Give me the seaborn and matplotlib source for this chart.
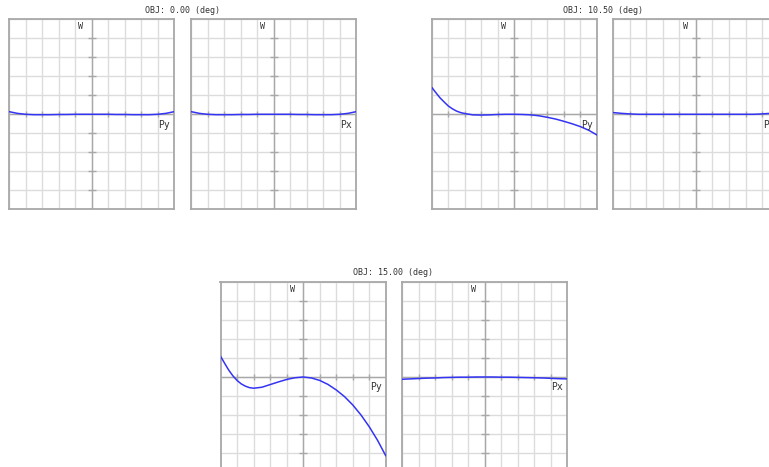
import numpy as np
import pandas as pd
import matplotlib
matplotlib.use("Agg")
import matplotlib.pyplot as plt
import seaborn as sns

# ---- data (wavefront W in grid divisions) ----
PUPIL = [-1.0, -0.9, -0.8, -0.7, -0.6, -0.5, -0.4, -0.3, -0.2, -0.1, 0.0,
         0.1, 0.2, 0.3, 0.4, 0.5, 0.6, 0.7, 0.8, 0.9, 1.0]
PUPIL_FINE = [-1.0, -0.95, -0.9, -0.85, -0.8, -0.75, -0.7, -0.65, -0.6, -0.5, -0.4,
              -0.3, -0.2, -0.1, 0.0, 0.1, 0.2, 0.3, 0.4, 0.5, 0.6, 0.7, 0.8, 0.9, 1.0]

W_OBJ0_PY = [0.14, 0.05, 0.00, -0.02, -0.02, -0.02, -0.01, -0.01, 0.0, 0.0, 0.0,
             0.0, 0.0, -0.01, -0.01, -0.02, -0.02, -0.02, 0.00, 0.05, 0.14]
W_OBJ0_PX = [0.14, 0.05, 0.00, -0.02, -0.02, -0.02, -0.01, -0.01, 0.0, 0.0, 0.0,
             0.0, 0.0, -0.01, -0.01, -0.02, -0.02, -0.02, 0.00, 0.05, 0.14]
W_OBJ10_PY = [1.42, 1.14, 0.87, 0.65, 0.44, 0.29, 0.17, 0.09, 0.04, -0.03, -0.04,
              -0.03, -0.01, 0.0, 0.0, -0.01, -0.03, -0.08, -0.16, -0.25, -0.37,
              -0.50, -0.65, -0.84, -1.09]
W_OBJ10_PX = [0.09, 0.05, 0.02, 0.0, 0.0, 0.0, 0.0, 0.0, 0.0, 0.0, 0.0,
              0.0, 0.0, 0.0, 0.0, 0.0, 0.0, 0.0, 0.02, 0.05, 0.09]
W_OBJ15_PY = [1.10, 0.72, 0.36, 0.06, -0.18, -0.36, -0.48, -0.56, -0.59, -0.54, -0.40,
              -0.26, -0.13, -0.04, 0.0, -0.05, -0.18, -0.39, -0.68, -1.03, -1.47,
              -2.00, -2.62, -3.33, -4.15]
W_OBJ15_PX = [-0.12, -0.10, -0.08, -0.06, -0.05, -0.03, -0.02, -0.01, -0.01, 0.0, 0.0,
              0.0, -0.01, -0.01, -0.02, -0.03, -0.04, -0.05, -0.07, -0.09, -0.10]

TITLES = ["OBJ: 0.00 (deg)", "OBJ: 10.50 (deg)", "OBJ: 15.00 (deg)"]
X_TICKS = [-1.0, -0.8, -0.6, -0.4, -0.2, 0.0, 0.2, 0.4, 0.6, 0.8, 1.0]
Y_TICKS = [-5, -4, -3, -2, -1, 0, 1, 2, 3, 4, 5]

sns.set_style("white")
plt.rcParams['font.family'] = ['DejaVu Sans Mono']

W, H = 769, 467
fig = plt.figure(figsize=(W / 100, H / 100), dpi=100)

pw, ph = 165.3, 190.0
panels = [
    (9.0, 19.3, PUPIL, W_OBJ0_PY, "Py"),
    (191.0, 19.3, PUPIL, W_OBJ0_PX, "Px"),
    (431.7, 19.3, PUPIL_FINE, W_OBJ10_PY, "Py"),
    (613.3, 19.3, PUPIL, W_OBJ10_PX, "Px"),
    (220.5, 282.0, PUPIL_FINE, W_OBJ15_PY, "Py"),
    (402.0, 282.0, PUPIL, W_OBJ15_PX, "Px"),
]

grid_c = "#dcdcdc"
axis_c = "#a8a8a8"
for (lx, ty, pv, wv, lab) in panels:
    ax = fig.add_axes([lx / W, 1 - (ty + ph) / H, pw / W, ph / H])
    ax.set_xlim(-1, 1)
    ax.set_ylim(-5, 5)
    ax.set_xticks(X_TICKS)
    ax.set_yticks(Y_TICKS)
    ax.grid(True, color=grid_c, lw=1.0)
    ax.tick_params(length=0, labelbottom=False, labelleft=False)
    for s in ax.spines.values():
        s.set_color(axis_c)
        s.set_linewidth(1.3)
    ax.axhline(0, color=axis_c, lw=1.0, zorder=1.5)
    ax.axvline(0, color=axis_c, lw=1.0, zorder=1.5)
    yt = [v for v in Y_TICKS if v not in (0, -5, 5)]
    xt = [v for v in X_TICKS if v not in (0.0, -1.0, 1.0)]
    ax.plot([0] * len(yt), yt, ls="none", marker="_", ms=6, mew=1.0, color=axis_c, zorder=1.6)
    ax.plot(xt, [0] * len(xt), ls="none", marker="|", ms=5, mew=1.0, color=axis_c, zorder=1.6)
    df = pd.DataFrame({"p": pv, "w": wv})
    sns.lineplot(data=df, x="p", y="w", ax=ax, color="#3434f4", lw=1.1, zorder=3)
    ax.set_xlabel("")
    ax.set_ylabel("")
    ax.text(-0.1, 4.85, "W", ha="right", va="top", fontsize=6, color="#333333")
    ax.text(0.95, -0.55, lab, ha="right", va="center", fontsize=7, color="#333333")

fig.text(182.5 / W, 1 - 10.3 / H, TITLES[0], ha="center", va="center", fontsize=6, color="#333333")
fig.text(603.0 / W, 1 - 10.3 / H, TITLES[1], ha="center", va="center", fontsize=6, color="#333333")
fig.text(393.0 / W, 1 - 272.5 / H, TITLES[2], ha="center", va="center", fontsize=6, color="#333333")

fig.savefig("out.png", dpi=100, facecolor="white")
